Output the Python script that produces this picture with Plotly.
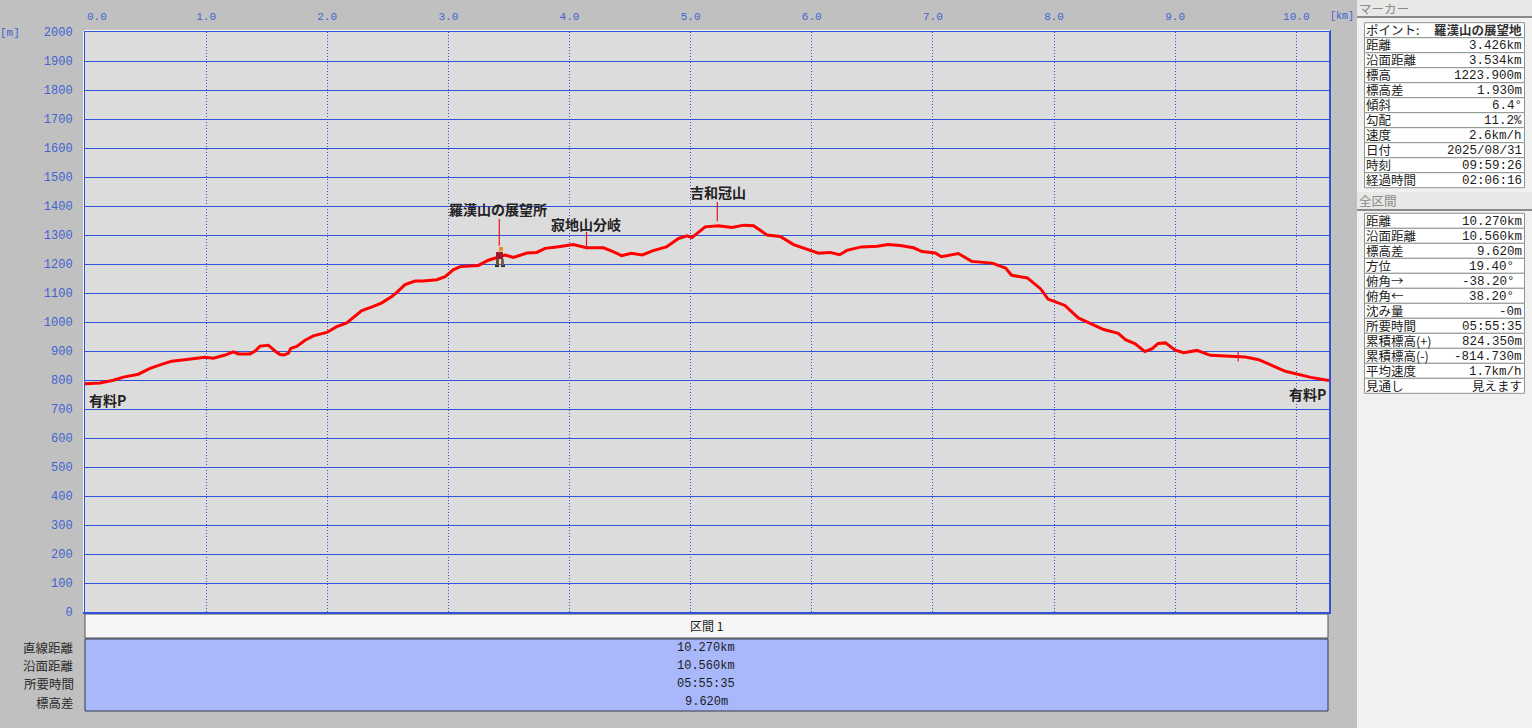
import plotly.graph_objects as go

# ---------- data ----------
dist_km = [0.0,0.124,0.234,0.317,0.44,0.537,0.62,0.716,0.84,0.99,1.06,1.156,1.225,1.266,1.363,1.404,1.445,1.514,1.569,1.61,1.643,1.68,1.698,1.748,1.817,1.885,1.996,2.078,2.161,2.216,2.285,2.381,2.45,2.533,2.574,2.642,2.725,2.79,2.904,2.973,3.04,3.097,3.248,3.33,3.413,3.468,3.537,3.648,3.73,3.798,3.895,4.03,4.14,4.28,4.36,4.43,4.51,4.6,4.69,4.80,4.90,4.97,5.01,5.12,5.23,5.34,5.44,5.52,5.63,5.74,5.85,5.96,6.055,6.15,6.23,6.29,6.41,6.54,6.63,6.73,6.84,6.91,7.02,7.07,7.21,7.32,7.49,7.60,7.65,7.78,7.89,7.95,8.09,8.20,8.35,8.41,8.53,8.59,8.67,8.75,8.81,8.86,8.92,9.0,9.07,9.18,9.29,9.48,9.58,9.69,9.79,9.91,10.12,10.27]
elev_m = [787,790,799,810,820,840,852,865,871,878,875,886,897,890,890,900,917,920,900,888,886,893,909,916,937,952,964,984,997,1016,1039,1054,1066,1088,1102,1129,1141,1141,1146,1156,1180,1191,1195,1213,1224,1231,1223,1238,1240,1254,1259,1267,1256,1256,1243,1229,1237,1231,1246,1259,1288,1297,1291,1328,1332,1326,1334,1332,1300,1295,1267,1252,1237,1240,1232,1247,1259,1261,1267,1264,1256,1243,1238,1225,1236,1209,1203,1186,1161,1152,1114,1079,1057,1014,987,974,961,939,925,898,908,926,928,903,894,902,885,882,879,870,853,830,809,798]

waypoint_names = ["羅漢山の展望所", "寂地山分岐", "吉和冠山"]
waypoint_km = [3.42, 4.14, 5.22, 9.52]
waypoint_low = [1263, 1256, 1347, 864]
waypoint_high = [1355, 1311, 1414, 899]
parking_label = "有料P"

x_ticks = [float(i) for i in range(0, 11)]
y_ticks = list(range(0, 2001, 100))

marker_labels = ["距離","沿面距離","標高","標高差","傾斜","勾配","速度","日付","時刻","経過時間"]
marker_values = ["3.426km","3.534km","1223.900m","1.930m","6.4°","11.2%","2.6km/h","2025/08/31","09:59:26","02:06:16"]
total_labels = ["距離","沿面距離","標高差","方位","俯角→","俯角←","沈み量","所要時間","累積標高(+)","累積標高(-)","平均速度","見通し"]
total_values = ["10.270km","10.560km","9.620m","19.40°\u00a0","-38.20°\u00a0","38.20°\u00a0","-0m","05:55:35","824.350m","-814.730m","1.7km/h","見えます"]
section_labels = ["直線距離","沿面距離","所要時間","標高差"]
section_values = ["10.270km","10.560km","05:55:35","9.620m"]

# ---------- layout constants ----------
W, H = 1532, 728
L, R, T, B = 85, 1329, 32, 612
BLUE = "#2f52d6"
TICK = "#3f63d0"
INK = "#1c1c1c"
MONO = "Liberation Mono, Noto Sans CJK JP"
JP = "Noto Sans CJK JP"

# paper coordinates are fractions of the plot area
px = lambda v: (v - L) / (R - L)
py = lambda v: (B - v) / (B - T)

shapes, notes = [], []

def rect(x0, y0, x1, y1, fill, line=None, lw=1, layer="below"):
    shapes.append(dict(type="rect", xref="paper", yref="paper", x0=px(x0), x1=px(x1),
                       y0=py(y1), y1=py(y0), fillcolor=fill, layer=layer,
                       line=dict(color=line or fill, width=lw if line else 0)))

def text(x, y, s, anchor="left", size=12, color=INK, family=JP, bold=False):
    notes.append(dict(xref="paper", yref="paper", x=px(x), y=py(y), text=f"<b>{s}</b>" if bold else s,
                      showarrow=False, xanchor=anchor, yanchor="middle",
                      font=dict(size=size, color=color, family=family),
                      borderpad=0, borderwidth=0))

# right-hand page background
rect(1357, 0, W, H, "#f1f1f1")

# thin white edge on the upper-left of the plot frame
for (a, b, c, d) in [(83.5, 31, 83.5, 612), (83.5, 30.5, 1330, 30.5)]:
    shapes.append(dict(type="line", xref="paper", yref="paper", x0=px(a), x1=px(c), y0=py(b), y1=py(d),
                       line=dict(color="#f4f4f4", width=1), layer="above"))

# section strip under the plot
rect(85, 614, 1328, 638, "#f6f6f6", "#555555", 1)
rect(85, 639, 1328, 711, "#a8b8fb", "#33384f", 1)
text(706, 625, "区間 1", "center", 12)
for i, (lab, val) in enumerate(zip(section_labels, section_values)):
    yy = 647.5 + i * 18.2
    text(74, yy, lab, "right", 12.5, "#2a2a2a")
    text(706, yy, val, "center", 12, INK, MONO)

# side panels
def panel(title, head_top, head_bot, top, labels, values, first=None):
    rect(1357, head_top, W, head_bot, "#e8e8e6")
    shapes.append(dict(type="line", xref="paper", yref="paper", x0=px(1357), x1=px(W),
                       y0=py(head_bot), y1=py(head_bot), line=dict(color="#8a8a8a", width=2)))
    text(1359, (head_top + head_bot) / 2, title, "left", 12.5, "#8a8a8a")
    rows = ([first] if first else []) + list(zip(labels, values))
    for i, (lab, val) in enumerate(rows):
        y0 = top + i * 15.0
        rect(1364.5, y0, 1524.5, y0 + 15.0, "#ffffff", "#8c9490", 1)
        text(1366, y0 + 7.0, lab, "left", 12.5)
        is_title = first is not None and i == 0
        is_jp = is_title or val == "見えます"
        text(1521.5, y0 + (7.0 if is_jp else 8.2), val, "right", 12.5,
             "#333333" if is_title else INK, JP if is_jp else MONO, bold=is_title)

panel("マーカー", 0, 17, 22.7, marker_labels, marker_values, first=("ポイント:", "羅漢山の展望地"))
panel("全区間", 192, 210, 213.3, total_labels, total_values)

# axis decorations
text(10, 33, "[m]", "center", 11, TICK, MONO)
text(1342, 17, "[km]", "center", 10, TICK, MONO)

fig = go.Figure()
fig.add_trace(go.Scatter(x=dist_km, y=elev_m, mode="lines", hoverinfo="skip",
                         line=dict(color="#ff0000", width=3)))
for km, lo, hi in zip(waypoint_km, waypoint_low, waypoint_high):
    fig.add_trace(go.Scatter(x=[km, km], y=[lo, hi], mode="lines", hoverinfo="skip",
                             line=dict(color="#e8141c", width=1.2)))

# waypoint and parking labels (data coordinates, offset in pixels)
label_offsets = [(-1, 10), (0, 8), (1, 10)]
for name, km, hi, (dx, dy) in zip(waypoint_names, waypoint_km, waypoint_high, label_offsets):
    notes.append(dict(x=km, y=hi, xref="x", yref="y", text=f"<b>{name}</b>", showarrow=False,
                      xshift=dx, yshift=dy, font=dict(size=14, color="#222222", family=JP)))
text(88.5, 400, f"<b>{parking_label}</b>", "left", 14, "#222222")
text(1326, 394, f"<b>{parking_label}</b>", "right", 14, "#222222")

# first x tick label sits to the right of its grid line
text(97, 17, "0.0", "center", 11, TICK, MONO)

# hiker icon anchored to the marker point
hiker = [(-1, 3, 6, 10, "#f08a18"), (-2, 2, 5, 7, "#e8b080"), (-4, 3, -2, 5, "#a01828"),
         (-4, -1, -8, -2, "#6a5030"), (1, 4, -8, -2, "#7a6040"), (-5, -1, -10, -8, "#303030"), (1, 5, -10, -8, "#303030")]
for x0, x1, y0, y1, col in hiker:
    shapes.append(dict(type="rect", xref="x", yref="y", xsizemode="pixel", ysizemode="pixel",
                       xanchor=3.426, yanchor=1223.9, x0=x0, x1=x1, y0=y0, y1=y1,
                       fillcolor=col, line=dict(width=0), layer="above"))

fig.update_layout(
    width=W, height=H, autosize=False, showlegend=False,
    paper_bgcolor="#c0c0c0", plot_bgcolor="#dcdcdc",
    margin=dict(l=L, r=W - R, t=T, b=H - B, pad=0),
    shapes=shapes, annotations=notes, hovermode=False,
    xaxis=dict(range=[0, 10.27], side="top", tickmode="array", tickvals=x_ticks[1:],
               ticktext=[f"{v:.1f}" for v in x_ticks[1:]], ticks="", ticklabelstandoff=6,
               showgrid=True, gridcolor=BLUE, griddash="1px,2px", gridwidth=1, zeroline=False,
               showline=True, linecolor=BLUE, linewidth=2, mirror=True, automargin=False,
               tickfont=dict(family=MONO, size=11, color=TICK)),
    yaxis=dict(range=[0, 2000], tickmode="array", tickvals=y_ticks, ticktext=[str(v) for v in y_ticks],
               ticks="", ticklabelstandoff=8, showgrid=True, gridcolor=BLUE, gridwidth=1, zeroline=False,
               showline=True, linecolor=BLUE, linewidth=2, mirror=True, automargin=False,
               tickfont=dict(family=MONO, size=12, color=TICK)),
)

fig.write_html("out.html", config={"displayModeBar": False},
               post_script="document.body.style.margin='0';document.body.style.overflow='hidden';")
